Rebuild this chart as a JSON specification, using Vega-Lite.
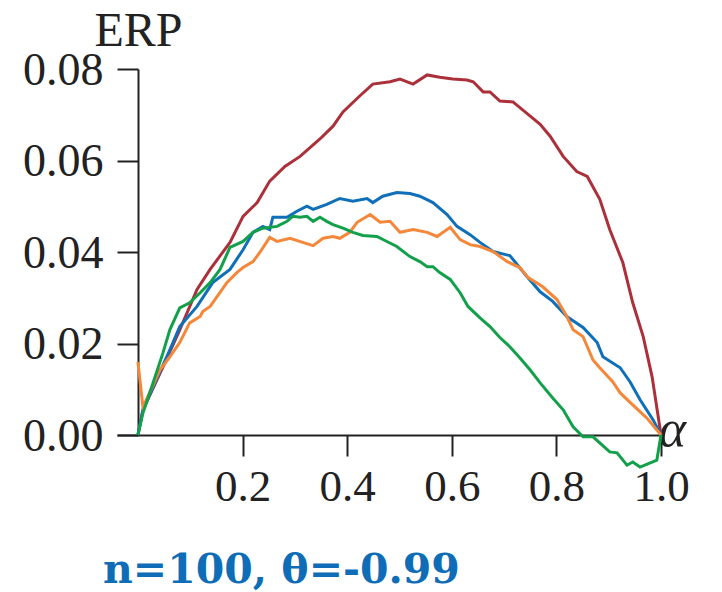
{
  "$schema": "https://vega.github.io/schema/vega-lite/v6.json",
  "autosize": {"type": "none"},
  "padding": {"left": 117, "top": 69, "right": 61, "bottom": 157},
  "width": 544,
  "height": 366,
  "background": "white",
  "config": {"view": {"stroke": null}, "axis": {"grid": false}},
  "title": {
    "text": "n=100, θ=-0.99",
    "orient": "bottom",
    "anchor": "start",
    "frame": "group",
    "font": "DejaVu Serif",
    "fontWeight": "bold",
    "fontSize": 41,
    "color": "#0f6db7",
    "dx": -14,
    "offset": 42
  },
  "data": {
    "values": [
      {"series": "red", "alpha": 0, "erp": 0},
      {"series": "red", "alpha": 0.0096, "erp": 0.0055},
      {"series": "red", "alpha": 0.048, "erp": 0.0149},
      {"series": "red", "alpha": 0.080, "erp": 0.0230},
      {"series": "red", "alpha": 0.113, "erp": 0.0318},
      {"series": "red", "alpha": 0.138, "erp": 0.0362},
      {"series": "red", "alpha": 0.176, "erp": 0.0421},
      {"series": "red", "alpha": 0.201, "erp": 0.0478},
      {"series": "red", "alpha": 0.228, "erp": 0.0508},
      {"series": "red", "alpha": 0.252, "erp": 0.0555},
      {"series": "red", "alpha": 0.281, "erp": 0.0587},
      {"series": "red", "alpha": 0.310, "erp": 0.0609},
      {"series": "red", "alpha": 0.348, "erp": 0.0647},
      {"series": "red", "alpha": 0.373, "erp": 0.0675},
      {"series": "red", "alpha": 0.392, "erp": 0.0706},
      {"series": "red", "alpha": 0.424, "erp": 0.0741},
      {"series": "red", "alpha": 0.449, "erp": 0.0767},
      {"series": "red", "alpha": 0.482, "erp": 0.0772},
      {"series": "red", "alpha": 0.501, "erp": 0.0778},
      {"series": "red", "alpha": 0.526, "erp": 0.0767},
      {"series": "red", "alpha": 0.553, "erp": 0.0787},
      {"series": "red", "alpha": 0.577, "erp": 0.0782},
      {"series": "red", "alpha": 0.602, "erp": 0.0778},
      {"series": "red", "alpha": 0.629, "erp": 0.0776},
      {"series": "red", "alpha": 0.641, "erp": 0.0772},
      {"series": "red", "alpha": 0.660, "erp": 0.0750},
      {"series": "red", "alpha": 0.673, "erp": 0.0750},
      {"series": "red", "alpha": 0.692, "erp": 0.0730},
      {"series": "red", "alpha": 0.717, "erp": 0.0728},
      {"series": "red", "alpha": 0.750, "erp": 0.0697},
      {"series": "red", "alpha": 0.769, "erp": 0.0679},
      {"series": "red", "alpha": 0.788, "erp": 0.0653},
      {"series": "red", "alpha": 0.813, "erp": 0.0609},
      {"series": "red", "alpha": 0.839, "erp": 0.0576},
      {"series": "red", "alpha": 0.859, "erp": 0.0565},
      {"series": "red", "alpha": 0.883, "erp": 0.0515},
      {"series": "red", "alpha": 0.902, "erp": 0.0449},
      {"series": "red", "alpha": 0.927, "erp": 0.0377},
      {"series": "red", "alpha": 0.946, "erp": 0.0289},
      {"series": "red", "alpha": 0.966, "erp": 0.0215},
      {"series": "red", "alpha": 0.983, "erp": 0.0127},
      {"series": "red", "alpha": 1.0, "erp": 0},

      {"series": "blue", "alpha": 0, "erp": 0},
      {"series": "blue", "alpha": 0.0096, "erp": 0.0055},
      {"series": "blue", "alpha": 0.061, "erp": 0.0186},
      {"series": "blue", "alpha": 0.080, "erp": 0.0237},
      {"series": "blue", "alpha": 0.113, "erp": 0.0281},
      {"series": "blue", "alpha": 0.143, "erp": 0.0333},
      {"series": "blue", "alpha": 0.176, "erp": 0.0362},
      {"series": "blue", "alpha": 0.201, "erp": 0.0405},
      {"series": "blue", "alpha": 0.220, "erp": 0.0443},
      {"series": "blue", "alpha": 0.239, "erp": 0.0456},
      {"series": "blue", "alpha": 0.252, "erp": 0.0449},
      {"series": "blue", "alpha": 0.258, "erp": 0.0476},
      {"series": "blue", "alpha": 0.285, "erp": 0.0476},
      {"series": "blue", "alpha": 0.304, "erp": 0.0489},
      {"series": "blue", "alpha": 0.323, "erp": 0.0500},
      {"series": "blue", "alpha": 0.335, "erp": 0.0493},
      {"series": "blue", "alpha": 0.361, "erp": 0.0504},
      {"series": "blue", "alpha": 0.386, "erp": 0.0517},
      {"series": "blue", "alpha": 0.411, "erp": 0.0511},
      {"series": "blue", "alpha": 0.438, "erp": 0.0517},
      {"series": "blue", "alpha": 0.449, "erp": 0.0508},
      {"series": "blue", "alpha": 0.468, "erp": 0.0522},
      {"series": "blue", "alpha": 0.495, "erp": 0.0530},
      {"series": "blue", "alpha": 0.520, "erp": 0.0528},
      {"series": "blue", "alpha": 0.539, "erp": 0.0522},
      {"series": "blue", "alpha": 0.564, "erp": 0.0508},
      {"series": "blue", "alpha": 0.591, "erp": 0.0482},
      {"series": "blue", "alpha": 0.610, "erp": 0.0456},
      {"series": "blue", "alpha": 0.635, "erp": 0.0438},
      {"series": "blue", "alpha": 0.654, "erp": 0.0421},
      {"series": "blue", "alpha": 0.679, "erp": 0.0401},
      {"series": "blue", "alpha": 0.711, "erp": 0.0392},
      {"series": "blue", "alpha": 0.744, "erp": 0.0346},
      {"series": "blue", "alpha": 0.769, "erp": 0.0313},
      {"series": "blue", "alpha": 0.793, "erp": 0.0292},
      {"series": "blue", "alpha": 0.820, "erp": 0.0259},
      {"series": "blue", "alpha": 0.851, "erp": 0.0235},
      {"series": "blue", "alpha": 0.878, "erp": 0.0202},
      {"series": "blue", "alpha": 0.889, "erp": 0.0171},
      {"series": "blue", "alpha": 0.922, "erp": 0.0147},
      {"series": "blue", "alpha": 0.941, "erp": 0.0116},
      {"series": "blue", "alpha": 0.960, "erp": 0.0077},
      {"series": "blue", "alpha": 0.985, "erp": 0.0033},
      {"series": "blue", "alpha": 1.0, "erp": 0},

      {"series": "orange", "alpha": 0, "erp": 0.0160},
      {"series": "orange", "alpha": 0.0096, "erp": 0.0061},
      {"series": "orange", "alpha": 0.042, "erp": 0.0142},
      {"series": "orange", "alpha": 0.061, "erp": 0.0171},
      {"series": "orange", "alpha": 0.080, "erp": 0.0202},
      {"series": "orange", "alpha": 0.099, "erp": 0.0245},
      {"series": "orange", "alpha": 0.119, "erp": 0.0259},
      {"series": "orange", "alpha": 0.124, "erp": 0.0270},
      {"series": "orange", "alpha": 0.138, "erp": 0.0281},
      {"series": "orange", "alpha": 0.151, "erp": 0.0302},
      {"series": "orange", "alpha": 0.170, "erp": 0.0333},
      {"series": "orange", "alpha": 0.189, "erp": 0.0355},
      {"series": "orange", "alpha": 0.201, "erp": 0.0366},
      {"series": "orange", "alpha": 0.220, "erp": 0.0379},
      {"series": "orange", "alpha": 0.233, "erp": 0.0399},
      {"series": "orange", "alpha": 0.252, "erp": 0.0432},
      {"series": "orange", "alpha": 0.266, "erp": 0.0423},
      {"series": "orange", "alpha": 0.291, "erp": 0.0430},
      {"series": "orange", "alpha": 0.315, "erp": 0.0421},
      {"series": "orange", "alpha": 0.335, "erp": 0.0414},
      {"series": "orange", "alpha": 0.354, "erp": 0.0430},
      {"series": "orange", "alpha": 0.373, "erp": 0.0434},
      {"series": "orange", "alpha": 0.386, "erp": 0.0430},
      {"series": "orange", "alpha": 0.405, "erp": 0.0443},
      {"series": "orange", "alpha": 0.419, "erp": 0.0465},
      {"series": "orange", "alpha": 0.444, "erp": 0.0482},
      {"series": "orange", "alpha": 0.463, "erp": 0.0465},
      {"series": "orange", "alpha": 0.482, "erp": 0.0467},
      {"series": "orange", "alpha": 0.501, "erp": 0.0443},
      {"series": "orange", "alpha": 0.526, "erp": 0.0449},
      {"series": "orange", "alpha": 0.553, "erp": 0.0443},
      {"series": "orange", "alpha": 0.572, "erp": 0.0434},
      {"series": "orange", "alpha": 0.597, "erp": 0.0454},
      {"series": "orange", "alpha": 0.616, "erp": 0.0427},
      {"series": "orange", "alpha": 0.635, "erp": 0.0416},
      {"series": "orange", "alpha": 0.654, "erp": 0.0412},
      {"series": "orange", "alpha": 0.679, "erp": 0.0401},
      {"series": "orange", "alpha": 0.706, "erp": 0.0379},
      {"series": "orange", "alpha": 0.730, "erp": 0.0366},
      {"series": "orange", "alpha": 0.746, "erp": 0.0344},
      {"series": "orange", "alpha": 0.774, "erp": 0.0324},
      {"series": "orange", "alpha": 0.801, "erp": 0.0296},
      {"series": "orange", "alpha": 0.820, "erp": 0.0259},
      {"series": "orange", "alpha": 0.832, "erp": 0.0230},
      {"series": "orange", "alpha": 0.851, "erp": 0.0215},
      {"series": "orange", "alpha": 0.870, "erp": 0.0164},
      {"series": "orange", "alpha": 0.883, "erp": 0.0147},
      {"series": "orange", "alpha": 0.908, "erp": 0.0116},
      {"series": "orange", "alpha": 0.922, "erp": 0.0092},
      {"series": "orange", "alpha": 0.946, "erp": 0.0066},
      {"series": "orange", "alpha": 0.973, "erp": 0.0037},
      {"series": "orange", "alpha": 1.0, "erp": 0},

      {"series": "green", "alpha": 0, "erp": 0},
      {"series": "green", "alpha": 0.0096, "erp": 0.0048},
      {"series": "green", "alpha": 0.029, "erp": 0.0114},
      {"series": "green", "alpha": 0.048, "erp": 0.0180},
      {"series": "green", "alpha": 0.061, "erp": 0.0230},
      {"series": "green", "alpha": 0.080, "erp": 0.0278},
      {"series": "green", "alpha": 0.099, "erp": 0.0289},
      {"series": "green", "alpha": 0.119, "erp": 0.0311},
      {"series": "green", "alpha": 0.138, "erp": 0.0333},
      {"series": "green", "alpha": 0.157, "erp": 0.0362},
      {"series": "green", "alpha": 0.176, "erp": 0.0410},
      {"series": "green", "alpha": 0.201, "erp": 0.0423},
      {"series": "green", "alpha": 0.220, "erp": 0.0443},
      {"series": "green", "alpha": 0.239, "erp": 0.0452},
      {"series": "green", "alpha": 0.266, "erp": 0.0456},
      {"series": "green", "alpha": 0.285, "erp": 0.0467},
      {"series": "green", "alpha": 0.296, "erp": 0.0478},
      {"series": "green", "alpha": 0.310, "erp": 0.0476},
      {"series": "green", "alpha": 0.323, "erp": 0.0478},
      {"series": "green", "alpha": 0.335, "erp": 0.0467},
      {"series": "green", "alpha": 0.348, "erp": 0.0476},
      {"series": "green", "alpha": 0.361, "erp": 0.0467},
      {"series": "green", "alpha": 0.373, "erp": 0.0460},
      {"series": "green", "alpha": 0.392, "erp": 0.0452},
      {"series": "green", "alpha": 0.411, "erp": 0.0443},
      {"series": "green", "alpha": 0.430, "erp": 0.0436},
      {"series": "green", "alpha": 0.457, "erp": 0.0434},
      {"series": "green", "alpha": 0.476, "erp": 0.0423},
      {"series": "green", "alpha": 0.495, "erp": 0.0412},
      {"series": "green", "alpha": 0.520, "erp": 0.0390},
      {"series": "green", "alpha": 0.539, "erp": 0.0379},
      {"series": "green", "alpha": 0.553, "erp": 0.0368},
      {"series": "green", "alpha": 0.564, "erp": 0.0368},
      {"series": "green", "alpha": 0.577, "erp": 0.0355},
      {"series": "green", "alpha": 0.597, "erp": 0.0340},
      {"series": "green", "alpha": 0.616, "erp": 0.0311},
      {"series": "green", "alpha": 0.631, "erp": 0.0281},
      {"series": "green", "alpha": 0.654, "erp": 0.0256},
      {"series": "green", "alpha": 0.673, "erp": 0.0237},
      {"series": "green", "alpha": 0.692, "erp": 0.0213},
      {"series": "green", "alpha": 0.711, "erp": 0.0193},
      {"series": "green", "alpha": 0.730, "erp": 0.0169},
      {"series": "green", "alpha": 0.750, "erp": 0.0142},
      {"series": "green", "alpha": 0.769, "erp": 0.0114},
      {"series": "green", "alpha": 0.793, "erp": 0.0081},
      {"series": "green", "alpha": 0.813, "erp": 0.0055},
      {"series": "green", "alpha": 0.832, "erp": 0.0018},
      {"series": "green", "alpha": 0.851, "erp": -0.0004},
      {"series": "green", "alpha": 0.870, "erp": -0.0004},
      {"series": "green", "alpha": 0.902, "erp": -0.0037},
      {"series": "green", "alpha": 0.916, "erp": -0.0039},
      {"series": "green", "alpha": 0.935, "erp": -0.0066},
      {"series": "green", "alpha": 0.946, "erp": -0.0059},
      {"series": "green", "alpha": 0.960, "erp": -0.0070},
      {"series": "green", "alpha": 0.992, "erp": -0.0055},
      {"series": "green", "alpha": 1.0, "erp": 0}
    ]
  },
  "mark": {"type": "line", "strokeWidth": 3, "clip": false},
  "encoding": {
    "x": {
      "field": "alpha",
      "type": "quantitative",
      "scale": {"domain": [-0.04, 1.0], "nice": false, "zero": false},
      "axis": {
        "values": [0.2, 0.4, 0.6, 0.8, 1.0],
        "format": ".1f",
        "tickSize": 21,
        "tickWidth": 2,
        "tickColor": "#222222",
        "domainColor": "#222222",
        "domainWidth": 2,
        "labelFont": "Liberation Serif",
        "labelFontSize": 45,
        "labelColor": "#222222",
        "labelBaseline": "alphabetic",
        "labelPadding": 44,
        "labelAlign": "center",
        "title": "α",
        "titleFont": "Liberation Serif",
        "titleFontStyle": "italic",
        "titleFontWeight": "normal",
        "titleFontSize": 52,
        "titleColor": "#222222",
        "titleX": 555,
        "titleY": 10,
        "titleAlign": "center",
        "titleBaseline": "alphabetic"
      }
    },
    "y": {
      "field": "erp",
      "type": "quantitative",
      "scale": {"domain": [0, 0.08], "nice": false, "zero": false},
      "axis": {
        "values": [0, 0.02, 0.04, 0.06, 0.08],
        "format": ".2f",
        "offset": -21,
        "tickSize": 21,
        "tickWidth": 2,
        "tickColor": "#222222",
        "domainColor": "#222222",
        "domainWidth": 2,
        "labelFont": "Liberation Serif",
        "labelFontSize": 46,
        "labelColor": "#222222",
        "labelBaseline": "alphabetic",
        "labelOffset": 15,
        "labelPadding": 14,
        "title": "ERP",
        "titleFont": "Liberation Serif",
        "titleFontWeight": "normal",
        "titleFontSize": 48,
        "titleColor": "#222222",
        "titleAngle": 0,
        "titleX": 0,
        "titleY": -24,
        "titleAlign": "center",
        "titleBaseline": "alphabetic"
      }
    },
    "color": {
      "field": "series",
      "type": "nominal",
      "scale": {
        "domain": ["red", "blue", "orange", "green"],
        "range": ["#ab3039", "#0f6fb9", "#f5873a", "#12a04b"]
      },
      "legend": null
    },
    "order": {"field": "alpha", "type": "quantitative"}
  }
}
